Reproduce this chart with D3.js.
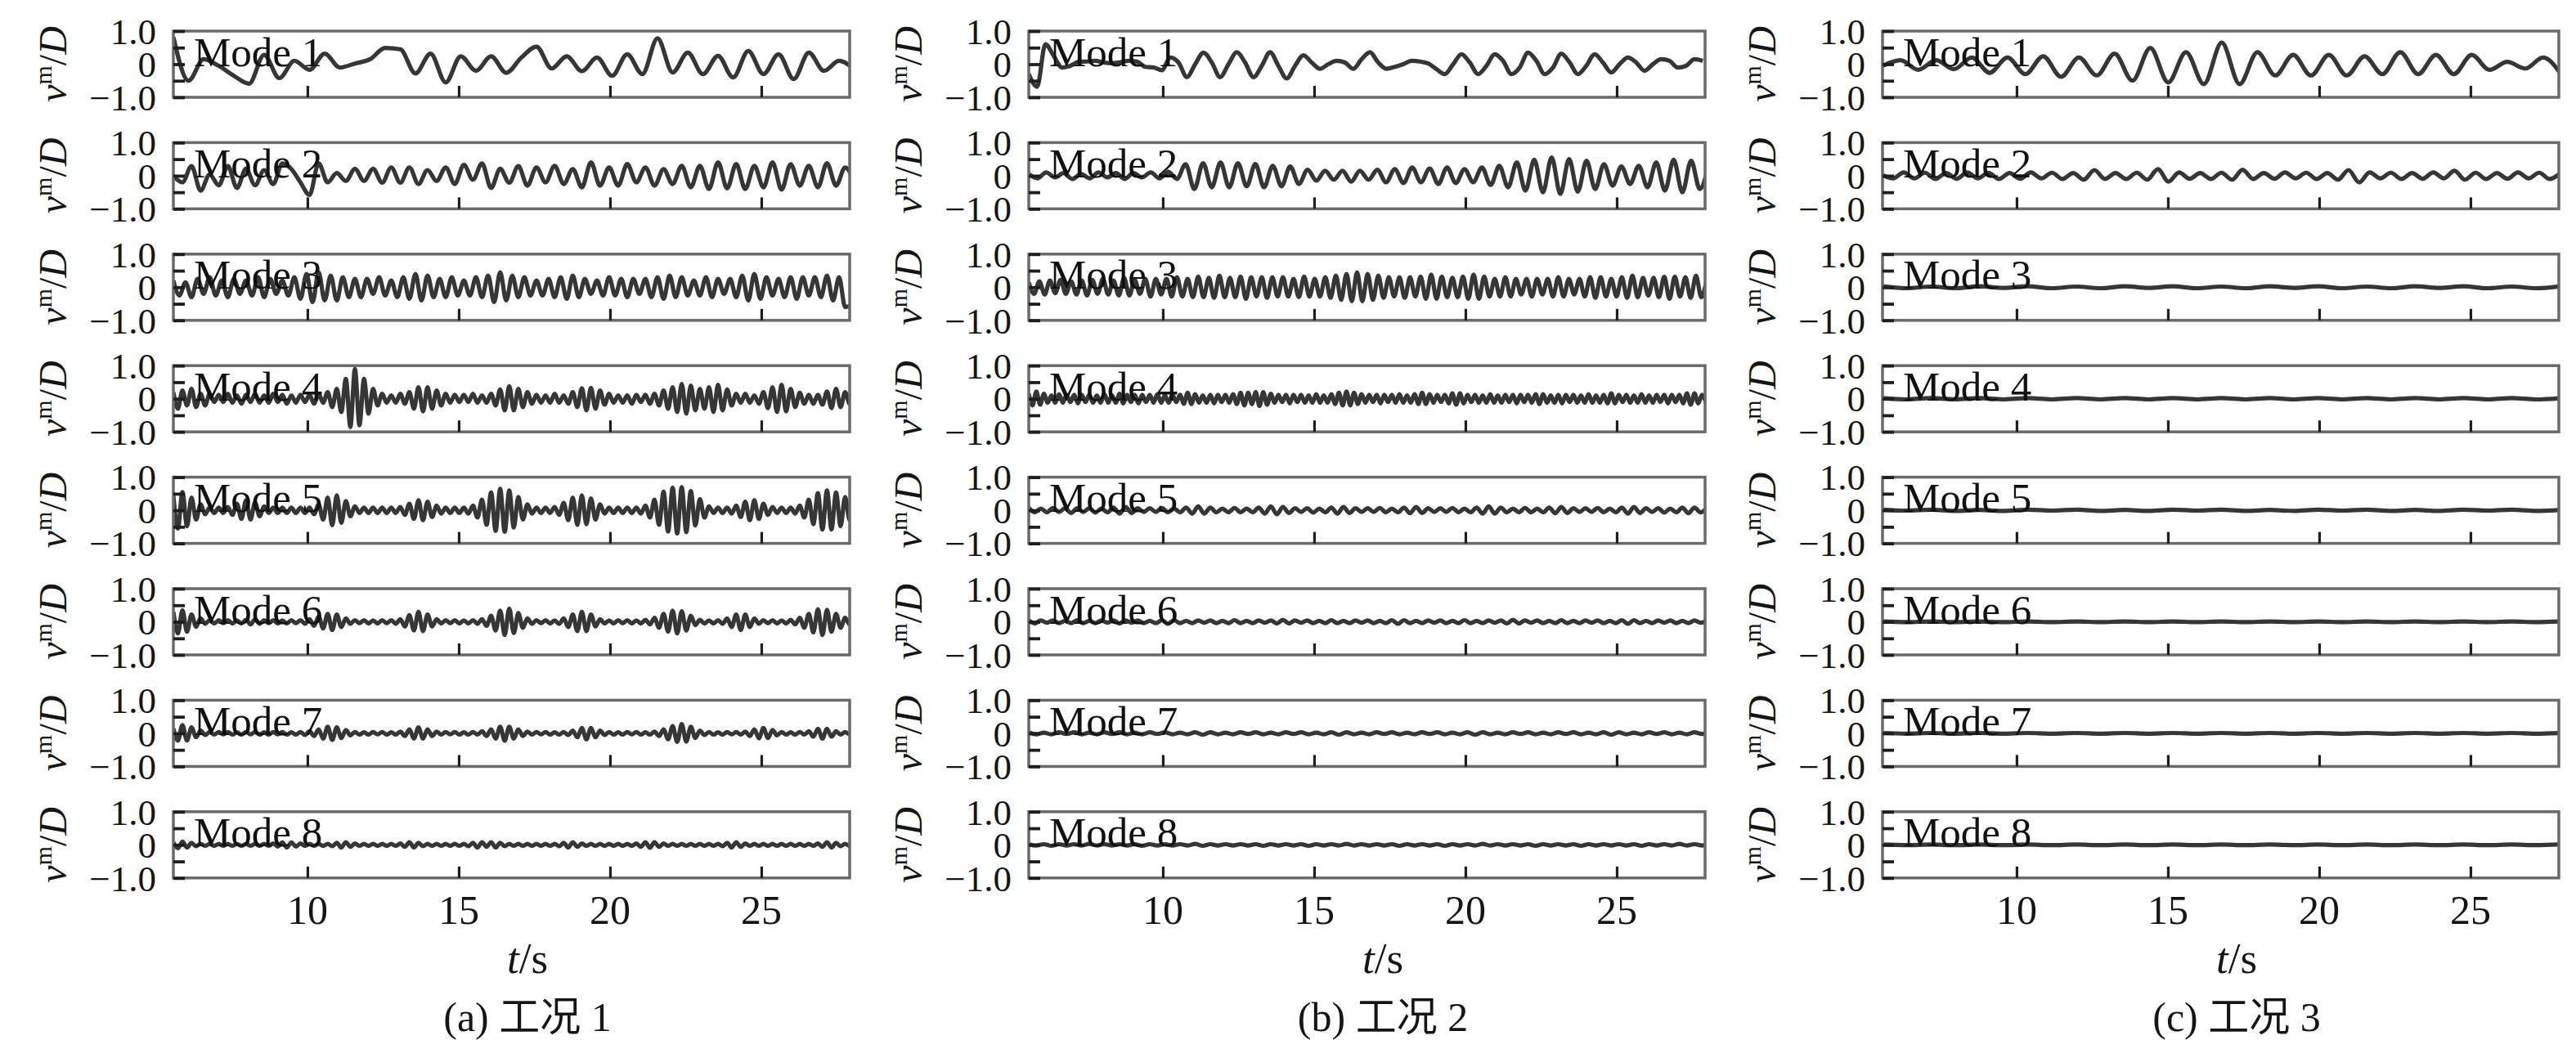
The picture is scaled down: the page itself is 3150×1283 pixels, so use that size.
<!DOCTYPE html>
<html><head><meta charset="utf-8">
<script src="https://cdn.jsdelivr.net/npm/d3@7"></script>
<style>html,body{margin:0;padding:0;background:#fff}svg{display:block}</style>
</head><body>
<svg id="chart" width="3150" height="1283"></svg>
<script>
// ---------------- data (values in hundredths of D) ----------------
const timeDomain = [5.57, 27.92];
const xTickValues = [10, 15, 20, 25];
const yTickValues = [-1, -0.5, 0, 0.5, 1];
const yTickLabelValues = [1, 0, -1];
const yTickLabelText = ["1.0", "0", "\u22121.0"];
const modeNames = ["Mode 1","Mode 2","Mode 3","Mode 4","Mode 5","Mode 6","Mode 7","Mode 8"];
const caseNames = ["(a) 工况 1", "(b) 工况 2", "(c) 工况 3"];

// sampling step (s) of each stored series, per case and mode
const case1Step = [0.5, 0.3, 0.2, 0.15, 0.15, 0.15, 0.15, 0.15];
const case2Step = [0.275, 0.288, 0.175, 0.125, 0.2, 0.2, 0.25, 0.25];
const case3Step = [0.59, 0.35, 0.8, 0.8, 0.8, 0.8, 0.8, 0.8];

const case1Mode1 = [82,-50,15,-5,-35,-59,28,-42,10,-17,32,-10,2,15,49,45,-28,32,-55,24,-20,24,-26,20,53,-13,24,-21,20,-35,30,-30,78,-25,35,-30,25,-40,40,-30,30,-45,35,-20,10,-15];
const case1Mode2 = [0,-20,29,-45,4,-29,29,-37,21,-29,17,-25,37,20,-20,-58,37,-20,8,-16,21,-16,21,-21,25,-21,25,-25,17,-16,25,-25,33,-12,37,-37,21,-21,29,-30,
 25,-20,30,-25,20,-35,40,-30,25,-30,35,-20,25,-30,20,-25,30,-35,30,-40,40,-38,35,-40,30,-35,40,-42,35,-30,30,-35,38,-30,25,-15];
const case1Mode3 = [20,-25,15,-30,25,-20,30,-25,20,-30,25,-20,20,-25,30,-30,25,-20,20,-25,30,-35,
 40,-45,45,-40,35,-40,30,-30,25,-30, 25,-20,30,-25,20,-30,30,-35,40,-40, 35,-30,25,-30,30,-25,20,-25,30,-30,
 35,-45,45,-40,35,-30,30,-25,20,-25, 25,-30,30,-35,35,-30,25,-20,20,-25, 30,-25,25,-30,25,-20,25,-30,30,-35,
 35,-30,30,-25,20,-25,30,-30,25,-20, 25,-30,35,-40,40,-35,30,-25,25,-30, 30,-35,30,-25,30,-30,35,-40,30,-60,-55];
const case1Mode4 = [20,-30,25,-20,30,-25,15,-20,15,-10, 12,-10,15,-12,10,-15,12,-10,15,-12,10,-12,15,-10,12,-15,10,-12,12,-10,
 12,-15,15,-12,20,-25,30,-40, 60,-85,90,-80,60,-45,30, -20,15,-12,10,-12,15,-15,20, -30,35,-38,35,-30,25,-20,15,-12,
 12,-10,12,-10,15,-12,10,-12,15,-20, 28,-35,38,-35,30,-25,20,-15,12, -12,10,-12,15,-12,10,-15,20,-25,
 32,-35,33,-30,25,-18,15,-12, 10,-12,10,-15,12,-10,12,-15,15,-20,25,-30,35, -40,45,-45,40,-35,30,-30,35,-40,42,-35,28,-20,15,
 -12,15,-12,10,-15,20, -28,35,-40,42,-38,30,-25,18,-15, 12,-15,12,-18,22,-28,30,-25,20,-15,10];
const case1Mode5 = [45,-55,55,-48,38,-28,18,-12,8,-8, 8,-8,10,-14,20,-26,30,-28,24,-18, 12,-8,8,-8,8,-8,8,-8,8,-8,
 8,-12,18,-28,38,-45,45,-38,28,-18, 12,-8,8,-8,8,-8,8,-8,8,-8, 10,-14,20,-26,30,-30,26,-20,14,-10,
 8,-8,8,-8,8,-10,14,-22,32,-44, 54,-62,65,-65,60,-52,40,-28,18,-10, 8,-8,8,-8,10,-14,22,-30,38,-44,
 45,-42,36,-28,18,-10,8,-8,8,-8, 8,-8,8,-10,14,-22,32,-44,56,-64, 68,-70,70,-66,58,-46,34,-22,12,-8,
 8,-8,8,-10,14,-20,26,-30,30,-26, 20,-14,10,-8,8,-8,8,-10,14,-22, 32,-42,52,-58,60,-58,54,-48,40,-30,22];
const case1Mode6 = [30,-35,35,-30,22,-15,10,-6,5,-5, 5,-4,5,-5,4,-5,6,-8,8,-6, 5,-4,5,-5,4,-5,5,-4,5,-6,
 8,-12,16,-20,24,-25,22,-16,10,-6, 5,-4,5,-5,4,-5,5,-4,5,-6, 8,-14,20,-26,30,-28,22,-14,8,-5,
 5,-4,5,-5,4,-5,5,-6,8,-12, 18,-26,34,-40,40,-34,26,-18,10,-6, 5,-4,5,-5,4,-6,10,-16,22,-28,
 30,-28,22,-14,8,-5,4,-5,5,-4, 5,-5,4,-5,6,-8,12,-18,24,-30, 34,-35,32,-26,18,-10,6,-5,4,-5,
 5,-6,10,-16,22,-25,22,-16,10,-6, 5,-4,5,-5,4,-5,6,-8,12,-18, 24,-32,38,-40,36,-30,24,-18,12,-8,5];
const case1Mode7 = [15,-22,25,-22,18,-12,8,-5,4,-4, 4,-3,4,-4,3,-4,4,-3,4,-4, 3,-4,4,-3,4,-4,3,-4,4,-5,
 6,-8,12,-16,20,-20,18,-14,10,-6, 4,-4,3,-4,4,-3,4,-4,3,-4, 5,-8,12,-16,18,-16,12,-8,5,-4,
 4,-3,4,-4,3,-4,4,-4,6,-8, 12,-16,20,-22,20,-16,12,-8,5,-4, 4,-3,4,-4,3,-4,4,-5,8,-12,
 16,-18,16,-12,8,-5,4,-4,3,-4, 4,-3,4,-4,3,-4,5,-8,12,-18, 22,-26,28,-25,20,-14,8,-5,4,-4,
 3,-4,4,-3,4,-4,5,-8,12,-15, 16,-14,10,-6,4,-4,3,-4,4,-4, 6,-10,14,-16,14,-10,6,-4,4,-3,3];
const case1Mode8 = [8,-10,10,-8,6,-4,3,-3,3,-3, 3,-3,3,-3,3,-3,3,-3,3,-3, 3,-3,4,-5,7,-8,7,-5,4,-3,
 3,-3,3,-3,3,-4,6,-8,8,-6, 4,-3,3,-3,3,-3,3,-3,3,-3, 4,-6,8,-8,6,-4,3,-3,3,-3,
 3,-3,3,-3,3,-4,6,-8,8,-6, 8,-8,6,-4,3,-3,3,-3,3,-3, 3,-3,3,-3,3,-4,6,-8,8,-6,
 4,-3,3,-3,3,-3,3,-3,3,-3, 3,-3,4,-6,8,-9,8,-6,4,-3, 3,-3,3,-3,3,-3,3,-3,3,-3,
 3,-4,6,-8,8,-6,4,-3,3,-3, 3,-3,3,-3,3,-3,3,-3,3,-3, 3,-3,4,-6,8,-8,6,-4,3,-3,3];

const case2Mode1 = [-30,-68,60,25,-10,-5,7,8,10,5,3,6,10,8,-8,-10,-18,20,5,-39,0,35,5,-39,0,36,5,-39,-5,36,-5,-43,-5,27,5,-14,0,10,5,-14,15,36,5,-14,-8,0,10,8,2,
 -15,-30,0,30,5,-30,-5,30,10,-30,-10,35,10,-30,-10,32,5,-30,-5,30,5,-25,0,20,5,-20,0,15,10,-10,-5,15,10];
const case2Mode2 = [5,-8,10,-5,8,-10,5,-8,10,-5,8,-10,8,-5,10,-8,12,-10,
 35,-40,38,-35,40,-35,38,-32,35,-35,30,-32,28,-25, 18,-15,15,-12,15,-18,15,-12,18,-20,
 20,-22,25,-20,22,-25,25,-22,20,-20, 25,-28,30,-35,40,-45,48,-50, 55,-55,50,-48,45,-40,35, -30,28,-25,30,-35, 40,-45,48,-50,45,-40,30];
const case2Mode3 = [15,-20,18,-22,20,-18,22,-20,18,-22,20,-25,22,-20,
 25,-22,20,-25,28,-25,22,-20,25,-28,25,-22,25,-28,30,-28,25,
 -30,32,-30,28,-32,35,-30,28,-30,32,-35,30,-28,30,-32,30,-28,
 30,-28,25,-30,32,-28,25,-28,30,-32,35,-38,40,-42, 45,-42,40,-38,35,-32,30,-28,30,
 -32,30,-28,32,-35,38,-35,32,-30,28,-30,32,-35,38, -35,32,-28,25,-28,30,-28,25,-22,25,-28,25,-22,25,
 -28,30,-28,25,-22,25,-28,30,-32,30,-28,25,-28,30, -32,35,-30,28,-25,28,-30,32,-35,32,-28,30,-32,35,-30,20];
const case2Mode4 = [15,-20,22,-18,15,-12,10,-12,14,-12, 12,-10,12,-14,12,-10,12,-12,10,-12, 14,-12,10,-12,15,-14,12,-10,12,-14,
 12,-10,12,-12,14,-12,10,-12,12,-10, 12,-15,18,-16,14,-12,10,-12,12,-14, 12,-10,12,-12,14,-16,18,-20,18,-16,
 20,-22,20,-18,15,-12,12,-10,12,-14, 12,-10,12,-12,10,-12,14,-12,10,-12, 14,-16,18,-20,22,-20,18,-16,14,-12,
 12,-10,12,-14,12,-10,12,-12,14,-12, 10,-12,14,-16,18,-16,14,-12,12,-10, 12,-14,16,-18,16,-14,12,-10,12,-12,
 10,-12,14,-12,10,-12,12,-10,12,-14, 12,-10,12,-12,14,-16,14,-12,10,-12, 12,-14,12,-10,12,-12,10,-12,14,-12,
 10,-12,12,-14,16,-14,12,-10,12,-12, 10,-12,14,-12,10,-12,12,-10,12,-14, 12,-10,12,-14,16,-18,16,-14,12,-10];
const case2Mode5 = [8,-6,5,-6,7,-5,6,-8,6,-5, 6,-7,5,-6,8,-10,10,-8,6,-5, 6,-5,7,-6,5,-6,8,-10,12,-10, 8,-6,5,-6,7,-6,5,-6,8,-10,
 12,-12,10,-8,6,-5,6,-7,5,-6, 8,-10,10,-8,6,-5,6,-5,7,-6, 5,-6,8,-9,10,-8,6,-5,6,-5, 7,-6,5,-6,8,-10,12,-10,8,-6,
 5,-6,7,-6,5,-6,8,-9,10,-8, 6,-5,6,-5,7,-6,5,-6,8,-10, 10,-8,6,-5,6,-7,5,-6,8,-9, 8,-6,5];
const case2Mode6 = [4,-5,4,-3,4,-4,3,-4,5,-4, 3,-4,4,-3,4,-5,4,-3,4,-4, 3,-4,5,-6,5,-4,3,-4,4,-3, 4,-4,3,-4,5,-4,3,-4,4,-3,
 4,-5,6,-5,4,-3,4,-4,3,-4, 5,-4,3,-4,4,-3,4,-4,3,-4, 5,-6,5,-4,3,-4,4,-3,4,-4, 3,-4,5,-4,3,-4,4,-3,4,-5,
 6,-5,4,-3,4,-4,3,-4,5,-4, 3,-4,4,-3,4,-4,3,-4,5,-6, 5,-4,3,-4,4,-3,4,-4,3,-4, 4,-3,4];
const case2Mode7 = [3,-3,2,-3,3,-2,3,-3,2,-3, 3,-2,3,-3,2,-3,3,-2,3,-3, 2,-3,3,-4,3,-3,2,-3,3,-2, 3,-3,2,-3,3,-2,3,-3,2,-3,
 3,-4,3,-3,2,-3,3,-2,3,-3, 2,-3,3,-2,3,-3,2,-3,3,-4, 3,-3,2,-3,3,-2,3,-3,2,-3, 3,-2,3,-3,2,-3,3,-4,3,-3, 2,-3,3,-2,3,-3,2,-3,3,-2,3];
const case2Mode8 = [2,-2,2,-3,2,-2,2,-2,3,-2, 2,-2,2,-2,2,-3,2,-2,2,-2, 2,-2,3,-3,2,-2,2,-2,2,-2, 2,-3,2,-2,2,-2,2,-3,2,-2,
 2,-2,3,-2,2,-2,2,-2,2,-3, 2,-2,2,-2,2,-3,2,-2,2,-2, 3,-2,2,-2,2,-2,2,-3,2,-2, 2,-2,2,-3,2,-2,2,-2,2,-2, 2,-3,2,-2,2,-2,3,-2,2,-2,2];

const case3Mode1 = [-5,12,-17,12,-15,20,-26,20,-30,24,-38,20,-34,32,-50,49,-55,36,-60,65,-60,36,-34,28,-34,28,-34,24,-30,36,-30,28,-30,28,-17,7,-13,20,-30];
const case3Mode2 = [2,-8,10,-8,9,-10,8,-9,10,-8,9,-10,8,-9,10,-8,9,-10,8,-12,17,-10,8,-10,9,-12,20,-18,10,-9,8,-10,9,-12,18,-10,8,-9,10,-8,
 9,-10,8,-12,17,-20,10,-8,9,-10,8,-9,10,-8,15,-12,9,-10,8,-9,10,-8,9,-10,8];
const case3Mode3 = [3,-3,2,-3,3,-2,3,-3,2,-3,3,-2,3,-3,2,-3,3,-2,3,-3,2,-3,3,-2,3,-3,2,-3,3];
const case3Mode4 = [2,-2,2,-2,2,-2,2,-2,2,-2,2,-2,2,-2,2,-2,2,-2,2,-2,2,-2,2,-2,2,-2,2,-2,2];
const case3Mode5 = [2,-1,2,-2,1,-2,2,-1,2,-2,1,-2,2,-1,2,-2,1,-2,2,-1,2,-2,1,-2,2,-1,2,-2,1];
const case3Mode6 = [1,-1,1,-1,1,-1,1,-1,1,-1,1,-1,1,-1,1,-1,1,-1,1,-1,1,-1,1,-1,1,-1,1,-1,1];
const case3Mode7 = [1,-1,1,-1,1,-1,1,-1,1,-1,1,-1,1,-1,1,-1,1,-1,1,-1,1,-1,1,-1,1,-1,1,-1,1];
const case3Mode8 = [1,-1,1,-1,1,-1,1,-1,1,-1,1,-1,1,-1,1,-1,1,-1,1,-1,1,-1,1,-1,1,-1,1,-1,1];

const caseSeries = [
  [case1Mode1,case1Mode2,case1Mode3,case1Mode4,case1Mode5,case1Mode6,case1Mode7,case1Mode8],
  [case2Mode1,case2Mode2,case2Mode3,case2Mode4,case2Mode5,case2Mode6,case2Mode7,case2Mode8],
  [case3Mode1,case3Mode2,case3Mode3,case3Mode4,case3Mode5,case3Mode6,case3Mode7,case3Mode8]
];
const caseSteps = [case1Step, case2Step, case3Step];

// ---------------- layout ----------------
const colLeft = [212, 1258, 2302];
const plotW = 827, plotH = 81;
const rowTop0 = 38, rowPitch = 136.4;
const serif = "'Liberation Serif','Times New Roman',serif";
const cjk = "'Liberation Serif','Noto Sans CJK SC',serif";

const svg = d3.select("#chart");
const x = d3.scaleLinear().domain(timeDomain).range([0, plotW]);
const y = d3.scaleLinear().domain([-1, 1]).range([plotH, 0]);

const line = d3.line()
  .x(d => x(d[0])).y(d => y(d[1]))
  .curve(d3.curveMonotoneX);

caseSeries.forEach((modes, c) => {
  modes.forEach((vals, m) => {
    const g = svg.append("g")
      .attr("transform", `translate(${colLeft[c]},${rowTop0 + m * rowPitch})`);
    const clipId = `clip-${c}-${m}`;
    g.append("clipPath").attr("id", clipId)
      .append("rect").attr("x", 0).attr("y", 0).attr("width", plotW).attr("height", plotH);

    const step = caseSteps[c][m];
    const pts = vals.map((v, i) => [timeDomain[0] + i * step, v / 100]);

    g.append("path")
      .datum(pts)
      .attr("clip-path", `url(#${clipId})`)
      .attr("fill", "none")
      .attr("stroke", "#363636")
      .attr("stroke-width", 5.2)
      .attr("stroke-linejoin", "round")
      .attr("d", line);

    // frame
    g.append("rect")
      .attr("x", 0).attr("y", 0).attr("width", plotW).attr("height", plotH)
      .attr("fill", "none").attr("stroke", "#6a6a6a").attr("stroke-width", 3.5);

    // y ticks (inward)
    const yAxis = d3.axisRight(y).tickValues(yTickValues).tickSize(14).tickFormat("");
    const ya = g.append("g").call(yAxis);
    ya.select(".domain").remove();
    ya.selectAll("line").attr("stroke", "#1e1e1e").attr("stroke-width", 3.8);

    // x ticks (inward)
    const xAxis = d3.axisTop(x).tickValues(xTickValues).tickSize(14).tickFormat("");
    const xa = g.append("g").attr("transform", `translate(0,${plotH})`).call(xAxis);
    xa.select(".domain").remove();
    xa.selectAll("line").attr("stroke", "#1e1e1e").attr("stroke-width", 3.2);

    // y tick labels
    g.selectAll(".ylab").data(yTickLabelValues).enter().append("text")
      .attr("x", -21).attr("y", d => y(d)).attr("dy", "0.35em")
      .attr("text-anchor", "end")
      .attr("font-family", serif).attr("font-size", 45).attr("fill", "#151515")
      .text((d, i) => yTickLabelText[i]);

    // y title  v^m/D
    const yt = g.append("text")
      .attr("transform", `translate(-131,${plotH / 2}) rotate(-90)`)
      .attr("text-anchor", "middle")
      .attr("font-family", serif).attr("font-size", 48).attr("fill", "#151515");
    yt.append("tspan").attr("font-style", "italic").text("v");
    yt.append("tspan").attr("font-size", 30).attr("dy", -18).text("m");
    yt.append("tspan").attr("dy", 18).text("/");
    yt.append("tspan").attr("font-style", "italic").text("D");

    // mode label
    g.append("text")
      .attr("x", 25).attr("y", y(0) + 2)
      .attr("font-family", serif).attr("font-size", 51).attr("fill", "#111")
      .text(modeNames[m]);

    if (m === modes.length - 1) {
      g.selectAll(".xlab").data(xTickValues).enter().append("text")
        .attr("x", d => x(d)).attr("y", plotH + 56)
        .attr("text-anchor", "middle")
        .attr("font-family", serif).attr("font-size", 50).attr("fill", "#151515")
        .text(d => d);
      const tl = g.append("text")
        .attr("x", 433).attr("y", plotH + 116)
        .attr("text-anchor", "middle")
        .attr("font-family", serif).attr("font-size", 53).attr("fill", "#151515");
      tl.append("tspan").attr("font-style", "italic").text("t");
      tl.append("tspan").text("/s");
      g.append("text")
        .attr("x", 433).attr("y", plotH + 187)
        .attr("text-anchor", "middle")
        .attr("font-family", cjk).attr("font-size", 50).attr("fill", "#151515")
        .text(caseNames[c]);
    }
  });
});
</script>
</body></html>
